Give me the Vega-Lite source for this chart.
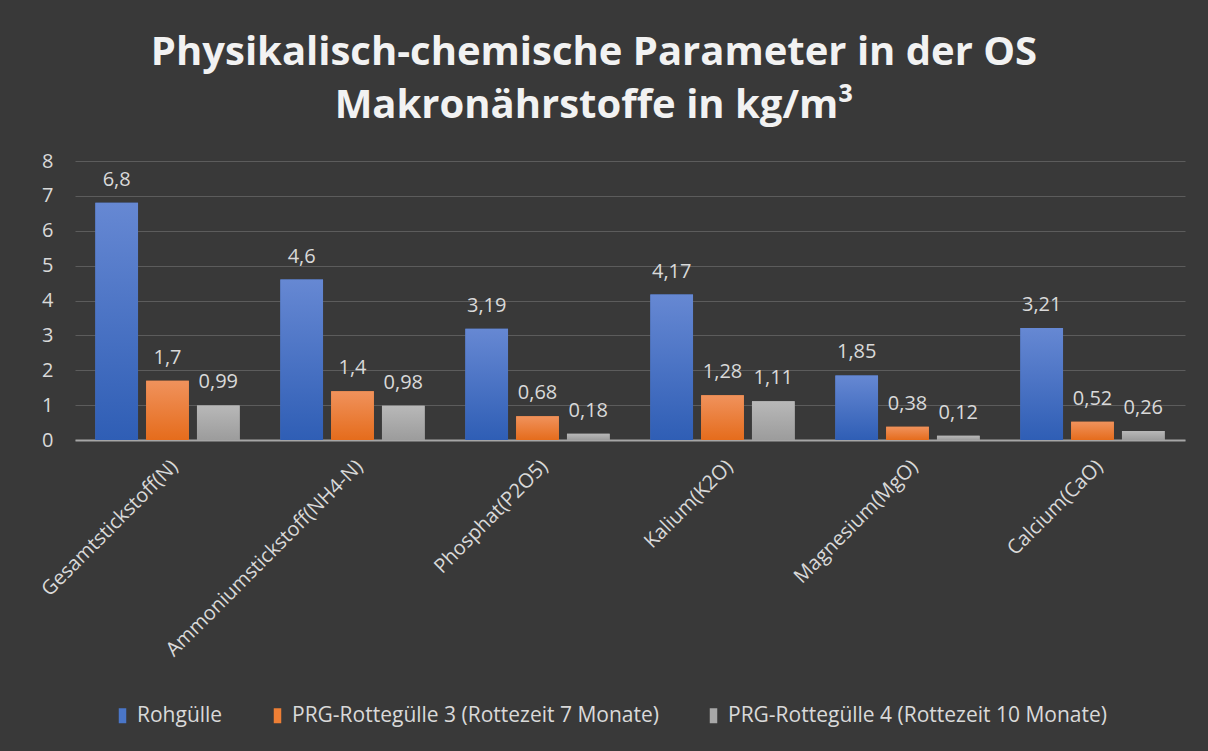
{
  "$schema": "https://vega.github.io/schema/vega-lite/v6.json",
  "autosize": "none",
  "width": 1110,
  "height": 279,
  "padding": {"left": 75, "top": 161, "right": 23, "bottom": 311},
  "background": "#393939",
  "config": {
    "locale": {"number": {"decimal": ",", "thousands": ".", "grouping": [3], "currency": ["", " €"]}},
    "view": {"stroke": null},
    "font": "Open Sans"
  },
  "title": {
    "text": ["Physikalisch-chemische Parameter in der OS", "Makronährstoffe in kg/m³"],
    "font": "Open Sans",
    "fontSize": 40,
    "fontWeight": "bold",
    "color": "#f2f2f2",
    "lineHeight": 53,
    "anchor": "middle",
    "dx": -36,
    "offset": 25
  },
  "data": {
    "values": [
      {"Parameter": "Gesamtstickstoff(N)", "Serie": "Rohgülle", "Wert": 6.8},
      {"Parameter": "Gesamtstickstoff(N)", "Serie": "PRG-Rottegülle 3 (Rottezeit 7 Monate)", "Wert": 1.7},
      {"Parameter": "Gesamtstickstoff(N)", "Serie": "PRG-Rottegülle 4 (Rottezeit 10 Monate)", "Wert": 0.99},
      {"Parameter": "Ammoniumstickstoff(NH4-N)", "Serie": "Rohgülle", "Wert": 4.6},
      {"Parameter": "Ammoniumstickstoff(NH4-N)", "Serie": "PRG-Rottegülle 3 (Rottezeit 7 Monate)", "Wert": 1.4},
      {"Parameter": "Ammoniumstickstoff(NH4-N)", "Serie": "PRG-Rottegülle 4 (Rottezeit 10 Monate)", "Wert": 0.98},
      {"Parameter": "Phosphat(P2O5)", "Serie": "Rohgülle", "Wert": 3.19},
      {"Parameter": "Phosphat(P2O5)", "Serie": "PRG-Rottegülle 3 (Rottezeit 7 Monate)", "Wert": 0.68},
      {"Parameter": "Phosphat(P2O5)", "Serie": "PRG-Rottegülle 4 (Rottezeit 10 Monate)", "Wert": 0.18},
      {"Parameter": "Kalium(K2O)", "Serie": "Rohgülle", "Wert": 4.17},
      {"Parameter": "Kalium(K2O)", "Serie": "PRG-Rottegülle 3 (Rottezeit 7 Monate)", "Wert": 1.28},
      {"Parameter": "Kalium(K2O)", "Serie": "PRG-Rottegülle 4 (Rottezeit 10 Monate)", "Wert": 1.11},
      {"Parameter": "Magnesium(MgO)", "Serie": "Rohgülle", "Wert": 1.85},
      {"Parameter": "Magnesium(MgO)", "Serie": "PRG-Rottegülle 3 (Rottezeit 7 Monate)", "Wert": 0.38},
      {"Parameter": "Magnesium(MgO)", "Serie": "PRG-Rottegülle 4 (Rottezeit 10 Monate)", "Wert": 0.12},
      {"Parameter": "Calcium(CaO)", "Serie": "Rohgülle", "Wert": 3.21},
      {"Parameter": "Calcium(CaO)", "Serie": "PRG-Rottegülle 3 (Rottezeit 7 Monate)", "Wert": 0.52},
      {"Parameter": "Calcium(CaO)", "Serie": "PRG-Rottegülle 4 (Rottezeit 10 Monate)", "Wert": 0.26}
    ]
  },
  "encoding": {
    "x": {
      "field": "Parameter",
      "type": "nominal",
      "sort": null,
      "scale": {"paddingInner": 0.22, "paddingOuter": 0.11},
      "axis": {
        "title": null,
        "labelAngle": -45,
        "labelFontSize": 20,
        "labelColor": "#d9d9d9",
        "labelPadding": 16,
        "labelLimit": 400,
        "ticks": false,
        "domainColor": "#a6a6a6",
        "domainWidth": 2,
        "grid": false
      }
    },
    "xOffset": {
      "field": "Serie",
      "type": "nominal",
      "sort": ["Rohgülle", "PRG-Rottegülle 3 (Rottezeit 7 Monate)", "PRG-Rottegülle 4 (Rottezeit 10 Monate)"],
      "scale": {"paddingInner": 0.16, "paddingOuter": 0}
    },
    "y": {
      "field": "Wert",
      "type": "quantitative",
      "scale": {"domain": [0, 8]},
      "axis": {
        "title": null,
        "values": [0, 1, 2, 3, 4, 5, 6, 7, 8],
        "labelFontSize": 20,
        "labelColor": "#d9d9d9",
        "labelPadding": 22,
        "ticks": false,
        "domain": false,
        "gridColor": "#5c5c5c",
        "gridWidth": 1
      }
    }
  },
  "layer": [
    {
      "mark": {"type": "bar"},
      "encoding": {
        "color": {
          "field": "Serie",
          "type": "nominal",
          "sort": ["Rohgülle", "PRG-Rottegülle 3 (Rottezeit 7 Monate)", "PRG-Rottegülle 4 (Rottezeit 10 Monate)"],
          "scale": {
            "domain": ["Rohgülle", "PRG-Rottegülle 3 (Rottezeit 7 Monate)", "PRG-Rottegülle 4 (Rottezeit 10 Monate)"],
            "range": ["#4a76c8", "#ee7f35", "#a8a8a8"]
          },
          "legend": {
            "title": null,
            "orient": "none",
            "direction": "horizontal",
            "legendX": 37,
            "legendY": 544,
            "symbolType": "M-0.5,-1H0.5V1H-0.5Z",
            "symbolSize": 225,
            "symbolStrokeWidth": 0,
            "labelFontSize": 21,
            "labelColor": "#d9d9d9",
            "labelOffset": 4,
            "columnPadding": 44,
            "labelLimit": 500
          }
        }
      }
    },
    {
      "transform": [{"filter": "datum.Serie === 'Rohgülle'"}],
      "mark": {"type": "bar", "color": {"gradient": "linear", "x1": 0, "y1": 0, "x2": 0, "y2": 1, "stops": [{"offset": 0, "color": "#6688d3"}, {"offset": 1, "color": "#2f5eb5"}]}}
    },
    {
      "transform": [{"filter": "datum.Serie === 'PRG-Rottegülle 3 (Rottezeit 7 Monate)'"}],
      "mark": {"type": "bar", "color": {"gradient": "linear", "x1": 0, "y1": 0, "x2": 0, "y2": 1, "stops": [{"offset": 0, "color": "#f0925c"}, {"offset": 1, "color": "#e56c1c"}]}}
    },
    {
      "transform": [{"filter": "datum.Serie === 'PRG-Rottegülle 4 (Rottezeit 10 Monate)'"}],
      "mark": {"type": "bar", "color": {"gradient": "linear", "x1": 0, "y1": 0, "x2": 0, "y2": 1, "stops": [{"offset": 0, "color": "#b8b8b8"}, {"offset": 1, "color": "#9c9c9c"}]}}
    },
    {
      "mark": {"type": "text", "baseline": "bottom", "dy": -13, "fontSize": 20, "color": "#d9d9d9"},
      "encoding": {
        "text": {"field": "Wert", "type": "quantitative", "format": ".3~r"}
      }
    }
  ]
}
